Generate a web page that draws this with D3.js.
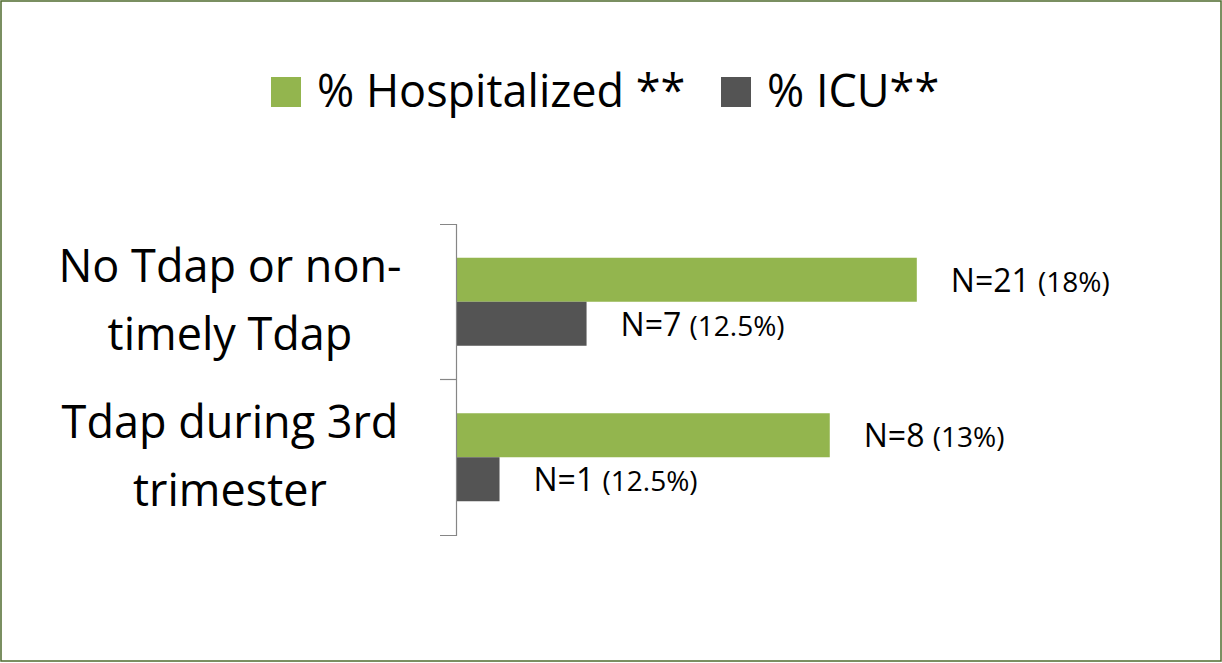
<!DOCTYPE html>
<html>
<head>
<meta charset="utf-8">
<script src="https://cdn.jsdelivr.net/npm/d3@7"></script>
<style>
  body { margin: 0; background: #fff; }
  svg { display: block; font-family: "Open Sans", Lato, sans-serif; }
</style>
</head>
<body>
<svg width="1222" height="663"></svg>
<script>
// categories, top to bottom
var categories = [["No Tdap or non-", "timely Tdap"], ["Tdap during 3rd", "trimester"]];
var seriesNames = ["% Hospitalized **", "% ICU**"];
// bar lengths as drawn in the picture (axis units)
var hospitalized = [18, 14.6];
var icu = [5.1, 1.7];
// data labels
var hospLabels = [["N=21", "(18%)"], ["N=8", "(13%)"]];
var icuLabels = [["N=7", "(12.5%)"], ["N=1", "(12.5%)"]];

var colors = ["#93b54e", "#545454"];

var svg = d3.select("svg"),
    margin = {top: 224, right: 105, bottom: 128, left: 456},
    width = 1222 - margin.left - margin.right,
    height = 663 - margin.top - margin.bottom;

// frame
svg.append("rect")
    .attr("x", 1).attr("y", 1)
    .attr("width", 1220).attr("height", 660)
    .attr("fill", "#fff")
    .attr("stroke", "#4f6b2e")
    .attr("stroke-width", 1.5);

var x = d3.scaleLinear().domain([0, 20]).range([0, 512]);
var y0 = d3.scaleBand().domain(d3.range(categories.length)).range([0, height]);
var y1 = d3.scaleBand().domain([0, 1]).range([0, 88]);

var g = svg.append("g")
    .attr("transform", "translate(" + margin.left + "," + margin.top + ")");

var rows = categories.map(function(c, i) {
  return [
    {s: 0, v: hospitalized[i], lab: hospLabels[i]},
    {s: 1, v: icu[i], lab: icuLabels[i]}
  ];
});

var group = g.selectAll(".cat")
    .data(rows)
  .enter().append("g")
    .attr("class", "cat")
    .attr("transform", function(d, i) {
      return "translate(0," + (y0(i) + (y0.bandwidth() - 88) / 2) + ")";
    });

group.selectAll("rect")
    .data(function(d) { return d; })
  .enter().append("rect")
    .attr("x", 0)
    .attr("y", function(d) { return y1(d.s); })
    .attr("width", function(d) { return x(d.v); })
    .attr("height", y1.bandwidth())
    .attr("fill", function(d) { return colors[d.s]; });

var lab = group.selectAll("text.val")
    .data(function(d) { return d; })
  .enter().append("text")
    .attr("class", "val")
    .attr("x", function(d) { return x(d.v) + 34; })
    .attr("y", function(d) { return y1(d.s) + y1.bandwidth() / 2 + 12; })
    .attr("fill", "#000");
lab.append("tspan").attr("font-size", 32).text(function(d) { return d.lab[0] + " "; });
lab.append("tspan").attr("font-size", 28).text(function(d) { return d.lab[1]; });

// category axis
var yAxis = d3.axisLeft(y0).tickValues([]).tickSizeOuter(16);
var ax = g.append("g").call(yAxis);
ax.select(".domain").attr("stroke", "#868686").attr("stroke-width", 1.2);
// inner tick between categories
ax.append("line")
    .attr("x1", -16).attr("x2", 0)
    .attr("y1", y0.step()).attr("y2", y0.step())
    .attr("stroke", "#868686").attr("stroke-width", 1.2);

g.selectAll(".catlab")
    .data(categories)
  .enter().append("text")
    .attr("class", "catlab")
    .attr("text-anchor", "middle")
    .attr("font-size", 45)
    .attr("x", 230 - margin.left)
    .attr("y", function(d, i) { return y0(i) + 58; })
  .selectAll("tspan")
    .data(function(d) { return d; })
  .enter().append("tspan")
    .attr("x", 230 - margin.left)
    .attr("dy", function(d, j) { return j ? 68 : 0; })
    .text(function(d) { return d; });

// legend
var legendX = [271, 721];
var legend = svg.selectAll(".legend")
    .data(seriesNames)
  .enter().append("g")
    .attr("class", "legend")
    .attr("transform", function(d, i) { return "translate(" + legendX[i] + ",77)"; });
legend.append("rect")
    .attr("width", 30).attr("height", 30)
    .attr("fill", function(d, i) { return colors[i]; });
legend.append("text")
    .attr("x", 46).attr("y", 30)
    .attr("font-size", 45)
    .text(function(d) { return d; });
</script>
</body>
</html>
